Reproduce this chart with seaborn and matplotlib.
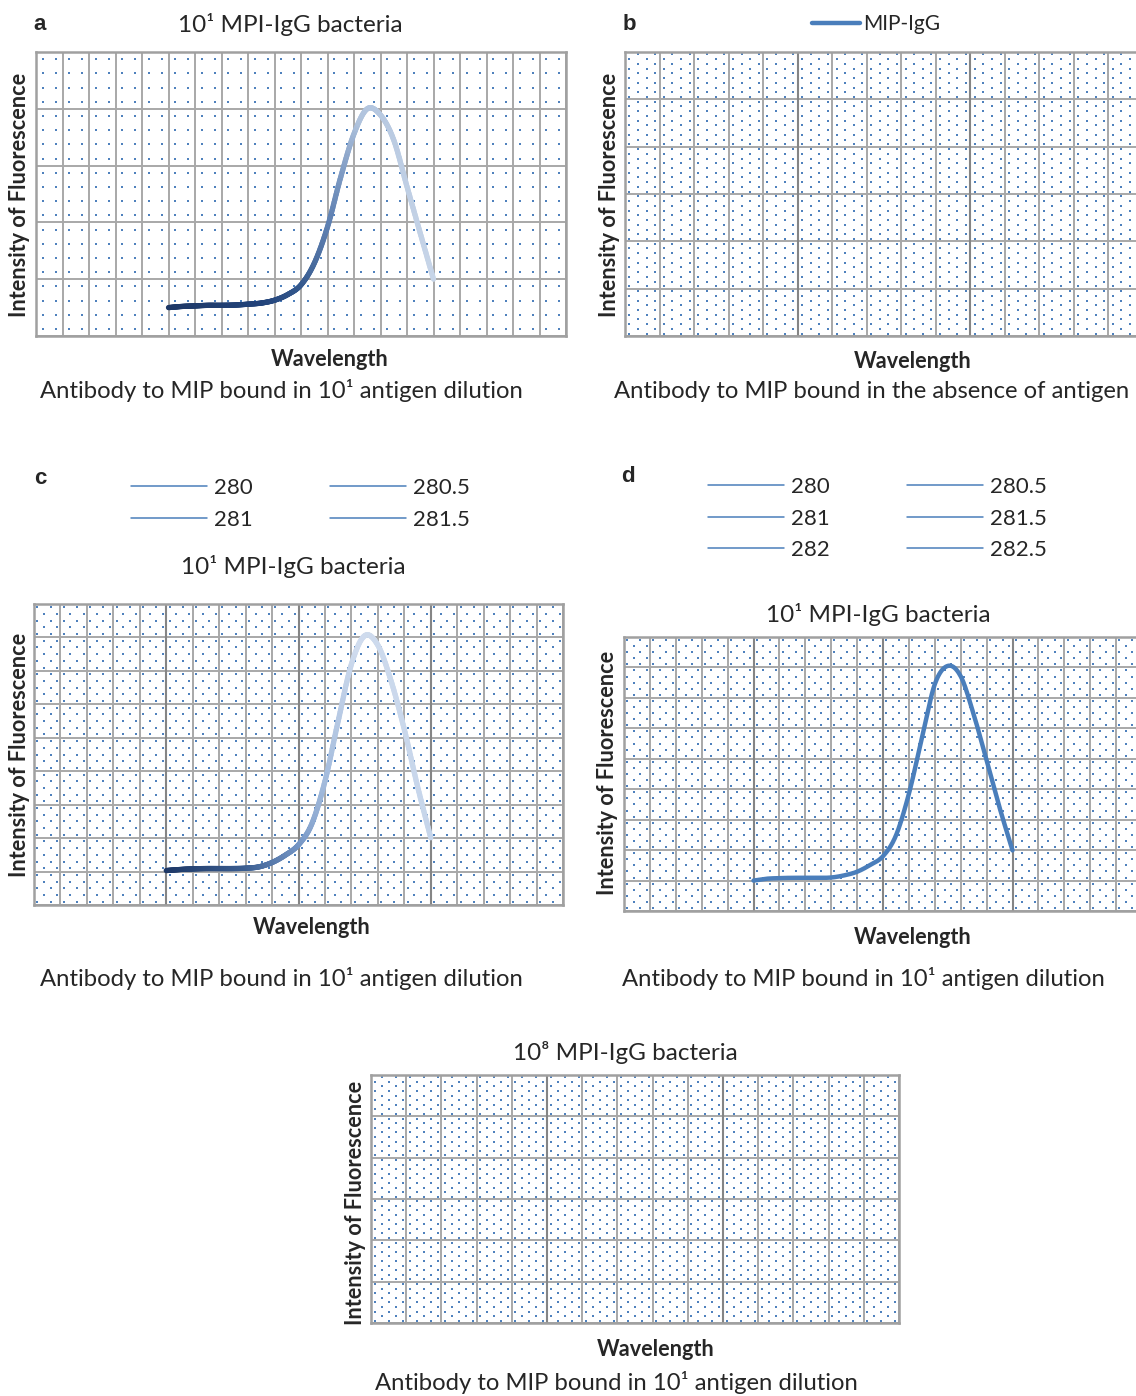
import numpy as np
import matplotlib
matplotlib.use("Agg")
import matplotlib.pyplot as plt
import seaborn as sns
import pandas as pd
from matplotlib.collections import LineCollection
from matplotlib.colors import LinearSegmentedColormap
from matplotlib.lines import Line2D

# ---------------- data ----------------
# category positions on the wavelength axis (grid columns)
wave_pos = [5, 5.5, 6, 6.5, 7, 7.5, 8, 8.5, 9, 9.5, 10,
            10.5, 11, 11.5, 12, 12.5, 13, 13.5, 14, 14.5, 15]
# panel a (5 grid rows)
intensity_a = [0.50, 0.52, 0.53, 0.54, 0.54, 0.545, 0.56, 0.58, 0.63, 0.73, 0.90,
               1.28, 1.92, 2.80, 3.56, 4.00, 3.89, 3.45, 2.63, 1.81, 1.00]
# panel c (9 grid rows)
intensity_c = [1.03, 1.06, 1.08, 1.09, 1.09, 1.09, 1.10, 1.14, 1.27, 1.49, 1.80,
               2.42, 3.70, 5.50, 7.20, 8.05, 7.77, 6.70, 5.25, 3.55, 2.01]
# panel d (9 grid rows)
intensity_d = [1.00, 1.06, 1.08, 1.09, 1.09, 1.09, 1.10, 1.17, 1.29, 1.51, 1.80,
               2.48, 3.85, 5.67, 7.45, 8.05, 7.71, 6.46, 4.95, 3.40, 1.99]
legend_b = ["MIP-IgG"]
legend_c = ["280", "281", "280.5", "281.5"]
legend_d = ["280", "281", "282", "280.5", "281.5", "282.5"]
title_1 = "10\u00b9 MPI-IgG bacteria"
title_8 = "10\u2078 MPI-IgG bacteria"
cap_dil = "Antibody to MIP bound in 10\u00b9 antigen dilution"
cap_abs = "Antibody to MIP bound in the absence of antigen"
ylab = "Intensity of Fluorescence"
xlab = "Wavelength"

W, H = 1136, 1396
sns.set_theme(style="white")
plt.rcParams['font.family'] = ['Lato', 'DejaVu Sans']

fig = plt.figure(figsize=(W / 100, H / 100), dpi=100)
fig.patch.set_facecolor('white')

BLUE = '#4a7ebb'
DOT = '#4f81bd'


def add_ax(l, t, r, b):
    return fig.add_axes([l / W, 1 - b / H, (r - l) / W, (b - t) / H])


def ftext(x, y, s, **kw):
    fig.text(x / W, 1 - y / H, s, ha=kw.pop('ha', 'center'), va=kw.pop('va', 'center'), **kw)


def dots(ax, ncols, nrows, nx, ny, stagger, size):
    xs = (np.arange(ncols * nx) + 0.5) / (ncols * nx)
    ys = (np.arange(nrows * ny) + 0.5) / (nrows * ny)
    X, Y = np.meshgrid(xs, ys)
    if stagger:
        I, J = np.meshgrid(np.arange(len(xs)), np.arange(len(ys)))
        m = (I + J) % 2 == 0
        X, Y = X[m], Y[m]
    ax.scatter(np.ravel(X), np.ravel(Y), s=size, marker='s', color=DOT, lw=0,
               transform=ax.transAxes, zorder=0.2, clip_on=True)


def style_panel(ax, ncols, nrows, nx, ny, stagger, major=False, size=2.0):
    ax.set_xlim(0, ncols)
    ax.set_ylim(0, nrows)
    ax.set_xticks(np.arange(0, ncols + 1))
    ax.set_yticks(np.arange(0, nrows + 1))
    ax.tick_params(length=0, labelbottom=False, labelleft=False)
    ax.grid(True, color='#a8a8a8', lw=1.4)
    ax.set_axisbelow(True)
    ax.set_facecolor('white')
    if major:
        for v in range(5, ncols, 5):
            ax.axvline(v, color='#858585', lw=1.5, zorder=0.6)
    for s in ax.spines.values():
        s.set_visible(True)
        s.set_color('#a0a0a0')
        s.set_linewidth(1.8)
    dots(ax, ncols, nrows, nx, ny, stagger, size)
    ax.set_xlabel('')
    ax.set_ylabel('')


def smooth(xp, yp, n=20):
    P = np.column_stack([np.asarray(xp, float), np.asarray(yp, float)])
    P = np.vstack([2 * P[0] - P[1], P, 2 * P[-1] - P[-2]])
    out = []
    for i in range(1, len(P) - 2):
        p0, p1, p2, p3 = P[i - 1], P[i], P[i + 1], P[i + 2]
        t = np.linspace(0, 1, n, endpoint=(i == len(P) - 3))[:, None]
        m1 = (p2 - p0) / 2
        m2 = (p3 - p1) / 2
        h00 = 2 * t**3 - 3 * t**2 + 1
        h10 = t**3 - 2 * t**2 + t
        h01 = -2 * t**3 + 3 * t**2
        h11 = t**3 - t**2
        out.append(h00 * p1 + h10 * m1 + h01 * p2 + h11 * m2)
    S = np.vstack(out)
    return S[:, 0], S[:, 1]


def gradient_line(ax, xs, ys, cmap, lw):
    pts = np.column_stack([xs, ys]).reshape(-1, 1, 2)
    segs = np.concatenate([pts[:-1], pts[1:]], axis=1)
    t = (xs[:-1] - xs.min()) / (xs.max() - xs.min())
    lc = LineCollection(segs, colors=cmap(t), linewidths=lw, capstyle='round',
                        joinstyle='round', zorder=3)
    ax.add_collection(lc)


def labels(xx, xy, yx, yy, cx, cy, caption, letter=None, lx=None, ly=None,
           title=None, tx=None, ty=None):
    if letter:
        ftext(lx, ly, letter, fontsize=16, fontweight='bold',
              family=['Liberation Sans', 'DejaVu Sans'])
    if title:
        ftext(tx, ty, title, fontsize=17.5)
    ftext(xx, xy, xlab, fontsize=15.6, fontweight='bold')
    ftext(yx, yy, ylab, fontsize=15.6, fontweight='bold', rotation=90)
    ftext(cx, cy, caption, fontsize=17.2)


cmap_a = LinearSegmentedColormap.from_list('a', [(0, '#1e3866'), (0.35, '#22437a'), (0.5, '#34588d'),
                                                 (0.62, '#6586b6'), (0.72, '#b0c3dd'), (1, '#c7d5e8')])
cmap_c = LinearSegmentedColormap.from_list('c', [(0, '#1e3866'), (0.3, '#3a5d90'), (0.5, '#7394c4'),
                                                 (0.6, '#a3bbdc'), (0.72, '#d0dcee'), (1, '#c6d5ea')])

leg_kw = dict(frameon=False, fontsize=16, handlelength=3.42, handletextpad=0.32,
              columnspacing=3.45, labelspacing=0.52, borderpad=0, borderaxespad=0, ncol=2,
              loc='upper left')

# ---------------- panel a ----------------
ax_a = add_ax(36, 52, 566, 336)
style_panel(ax_a, 20, 5, 2, 4, False, size=3.0)
xs, ys = smooth(wave_pos, intensity_a)
gradient_line(ax_a, xs, ys, cmap_a, 3.8)
labels(330, 360, 20, 195, 281, 390, cap_dil, 'a', 40, 24, title_1, 290, 25)

# ---------------- panel b ----------------
ax_b = add_ax(625, 52, 1143, 336)
style_panel(ax_b, 15, 6, 4, 10, True, major=True, size=2.2)
labels(913, 361, 609, 195, 872, 391, cap_abs, 'b', 629, 24)
hb = [Line2D([], [], color=BLUE, lw=3.2, solid_capstyle='round')]
fig.legend(hb, legend_b, loc='center left', bbox_to_anchor=(812 / W, 1 - 24 / H),
           frameon=False, fontsize=15, handlelength=2.3, handletextpad=0.15, borderpad=0,
           borderaxespad=0)

# ---------------- panel c ----------------
ax_c = add_ax(34, 604, 563, 905)
style_panel(ax_c, 20, 9, 4, 5, True, major=True, size=2.4)
xs, ys = smooth(wave_pos, intensity_c)
gradient_line(ax_c, xs, ys, cmap_c, 3.8)
labels(312, 927, 20, 755, 281, 978, cap_dil, 'c', 40, 478, title_1, 293, 567)
hc = [Line2D([], [], color=BLUE, lw=1.1) for _ in legend_c]
fig.legend(hc, legend_c, bbox_to_anchor=(131 / W, 1 - 478 / H), **leg_kw)

# ---------------- panel d ----------------
ax_d = add_ax(624, 637, 1142, 911)
style_panel(ax_d, 20, 9, 4, 5, True, major=True, size=2.4)
xs, ys = smooth(wave_pos, intensity_d)
sns.lineplot(data=pd.DataFrame({'x': xs, 'y': ys}), x='x', y='y', ax=ax_d, color=BLUE,
             lw=3.2, sort=False, zorder=3, solid_capstyle='round')
ax_d.set_xlabel('')
ax_d.set_ylabel('')
labels(913, 938, 608, 773, 863, 978, cap_dil, 'd', 628, 477, title_1, 878, 614)
hd = [Line2D([], [], color=BLUE, lw=1.1) for _ in legend_d]
fig.legend(hd, legend_d, bbox_to_anchor=(708 / W, 1 - 477 / H), **leg_kw)

# ---------------- panel e ----------------
ax_e = add_ax(371, 1075, 899, 1323)
style_panel(ax_e, 15, 6, 5, 9, True, major=True, size=2.2)
labels(656, 1350, 355, 1203, 616, 1383, cap_dil, title=title_8, tx=625, ty=1052)

fig.savefig('out.png', dpi=100, facecolor='white')
